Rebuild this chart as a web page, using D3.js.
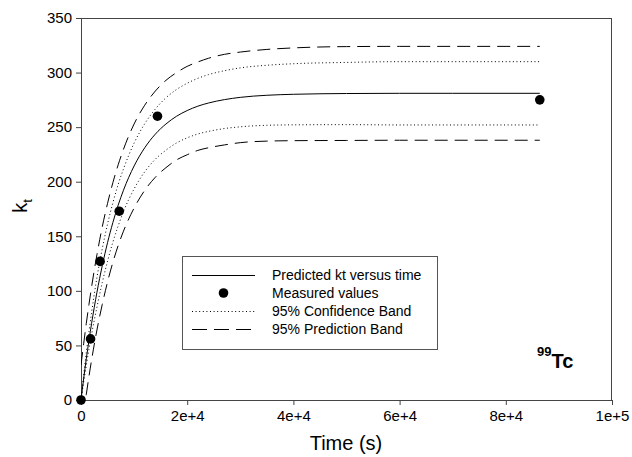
<!DOCTYPE html>
<html>
<head>
<meta charset="utf-8">
<script src="https://cdn.jsdelivr.net/npm/d3@7"></script>
<style>
  html, body { margin: 0; padding: 0; background: #fff; }
  svg { display: block; font-family: "Liberation Sans", Arial, sans-serif; }
</style>
</head>
<body>
<svg id="chart" width="632" height="457"></svg>
<script>
// ---- data ----
const measuredTime = [0, 1800, 3600, 7200, 14400, 86400];
const measuredKt   = [0, 56, 127, 173, 260, 275];

const curveTime  = [0, 500, 1000, 1500, 2000, 3000, 4000, 5000, 6000, 7000, 8000, 10000, 12000, 14000, 16000, 18000, 20000, 22000, 24000, 27000, 30000, 35000, 40000, 50000, 60000, 70000, 86400];
const predicted  = [0, 19.5, 37.7, 54.6, 70.3, 98.6, 123.0, 144.2, 162.6, 178.5, 192.2, 214.4, 231.1, 243.6, 252.9, 260.0, 265.2, 269.2, 272.1, 275.2, 277.3, 279.2, 280.1, 280.8, 281, 281, 281];
const confUpper  = [0, 22.5, 43.7, 62.6, 80.3, 112.1, 138.5, 161.2, 180.6, 197.5, 211.7, 235.4, 253.1, 266.6, 276.9, 284.5, 290.2, 294.7, 298.1, 301.7, 304.3, 306.7, 308.1, 309.3, 310, 310, 310];
const confLower  = [0, 16.5, 31.7, 46.6, 60.3, 85.1, 107.5, 127.2, 144.6, 159.5, 172.7, 193.4, 209.1, 220.6, 228.9, 235.5, 240.2, 243.7, 246.1, 248.7, 250.3, 251.7, 252.1, 252.3, 252, 252, 252];
const predUpper  = [32, 51.5, 70.2, 87.6, 103.8, 133.1, 158.5, 180.2, 199.1, 215.5, 229.7, 252.9, 270.1, 283.1, 292.9, 300.0, 305.7, 309.7, 313.1, 316.7, 318.8, 321.2, 322.6, 323.8, 324, 324, 324];
const predLower  = [-32, -12.5, 5.2, 21.6, 36.8, 64.1, 87.5, 108.2, 126.1, 141.5, 154.7, 175.9, 192.1, 204.1, 212.9, 220.0, 224.7, 228.7, 231.1, 233.7, 235.8, 237.2, 237.6, 237.8, 238, 238, 238];

const xTickValues = [0, 20000, 40000, 60000, 80000, 100000];
const xTickLabels = ["0", "2e+4", "4e+4", "6e+4", "8e+4", "1e+5"];
const yTickValues = [0, 50, 100, 150, 200, 250, 300, 350];

const legendLabels = ["Predicted kt versus time", "Measured values", "95% Confidence Band", "95% Prediction Band"];

// ---- layout ----
const svg = d3.select("#chart");
const pLeft = 81, pRight = 612, pTop = 18, pBottom = 400;
const axisColor = "#444";

const x = d3.scaleLinear().domain([0, 100000]).range([pLeft, pRight]);
const y = d3.scaleLinear().domain([0, 350]).range([pBottom, pTop]);

svg.append("defs").append("clipPath").attr("id", "plotclip")
  .append("rect").attr("x", pLeft).attr("y", pTop).attr("width", pRight - pLeft).attr("height", pBottom - pTop);

// frame (top & right)
svg.append("line").attr("x1", pLeft).attr("x2", pRight).attr("y1", pTop + 0.5).attr("y2", pTop + 0.5)
  .attr("stroke", axisColor).attr("stroke-width", 1);
svg.append("line").attr("x1", pRight - 0.5).attr("x2", pRight - 0.5).attr("y1", pTop).attr("y2", pBottom)
  .attr("stroke", axisColor).attr("stroke-width", 1);

// axes
const xAxis = d3.axisBottom(x).tickValues(xTickValues)
  .tickFormat((d, i) => xTickLabels[i]).tickSize(5).tickSizeOuter(0).tickPadding(5);
const yAxis = d3.axisLeft(y).tickValues(yTickValues)
  .tickFormat(d3.format("d")).tickSize(5).tickSizeOuter(0).tickPadding(4);

const gx = svg.append("g").attr("transform", `translate(0,${pBottom})`).call(xAxis);
const gy = svg.append("g").attr("transform", `translate(${pLeft},0)`).call(yAxis);
[gx, gy].forEach(g => {
  g.select(".domain").attr("stroke", axisColor);
  g.selectAll(".tick line").attr("stroke", axisColor);
  g.selectAll(".tick text").attr("fill", "#000").style("font-size", "15px")
    .style("font-family", "'Liberation Sans', Arial, sans-serif");
});

// axis titles
svg.append("text").attr("x", 346).attr("y", 450).attr("text-anchor", "middle")
  .style("font-size", "20px").text("Time (s)");
const yt = svg.append("text").attr("transform", "translate(27,206) rotate(-90)")
  .attr("text-anchor", "middle").style("font-size", "20px");
yt.append("tspan").text("k");
yt.append("tspan").attr("dy", 5).style("font-size", "13px").text("t");

// curves
const line = (vals) => d3.line()
  .x((d, i) => x(curveTime[i]))
  .y((d) => y(d))
  .curve(d3.curveMonotoneX)(vals);

const plot = svg.append("g").attr("clip-path", "url(#plotclip)");
const dotted = "1,2.6", dashed = "13,7";
plot.append("path").attr("d", line(predUpper)).attr("fill", "none").attr("stroke", "#000").attr("stroke-width", 1).attr("stroke-dasharray", dashed);
plot.append("path").attr("d", line(predLower)).attr("fill", "none").attr("stroke", "#000").attr("stroke-width", 1).attr("stroke-dasharray", dashed);
plot.append("path").attr("d", line(confUpper)).attr("fill", "none").attr("stroke", "#000").attr("stroke-width", 1).attr("stroke-dasharray", dotted);
plot.append("path").attr("d", line(confLower)).attr("fill", "none").attr("stroke", "#000").attr("stroke-width", 1).attr("stroke-dasharray", dotted);
plot.append("path").attr("d", line(predicted)).attr("fill", "none").attr("stroke", "#000").attr("stroke-width", 1);

// measured points
svg.append("g").selectAll("circle").data(measuredTime).join("circle")
  .attr("cx", (d) => x(d)).attr("cy", (d, i) => y(measuredKt[i])).attr("r", 4.8).attr("fill", "#000");

// legend
const lg = svg.append("g");
lg.append("rect").attr("x", 182.5).attr("y", 256.5).attr("width", 255).attr("height", 93)
  .attr("fill", "#fff").attr("stroke", "#555").attr("stroke-width", 1);
const rowY = [275, 293, 311, 329];
const styles = [null, "dot", dotted, dashed];
legendLabels.forEach((lab, i) => {
  if (styles[i] === "dot") {
    lg.append("circle").attr("cx", 223.5).attr("cy", rowY[i]).attr("r", 4.8).attr("fill", "#000");
  } else {
    const l = lg.append("line").attr("x1", 192).attr("x2", 255).attr("y1", rowY[i] + 0.5).attr("y2", rowY[i] + 0.5)
      .attr("stroke", "#000").attr("stroke-width", 1);
    if (styles[i]) l.attr("stroke-dasharray", styles[i] === dashed ? "15,7" : styles[i]);
  }
  lg.append("text").attr("x", 272).attr("y", rowY[i] + 5).style("font-size", "14px").text(lab);
});

// isotope annotation
const tc = svg.append("text").attr("x", 537).attr("y", 368).style("font-weight", "bold");
tc.append("tspan").style("font-size", "13px").attr("dy", -12).text("99");
tc.append("tspan").style("font-size", "20px").attr("dy", 12).text("Tc");
</script>
</body>
</html>
